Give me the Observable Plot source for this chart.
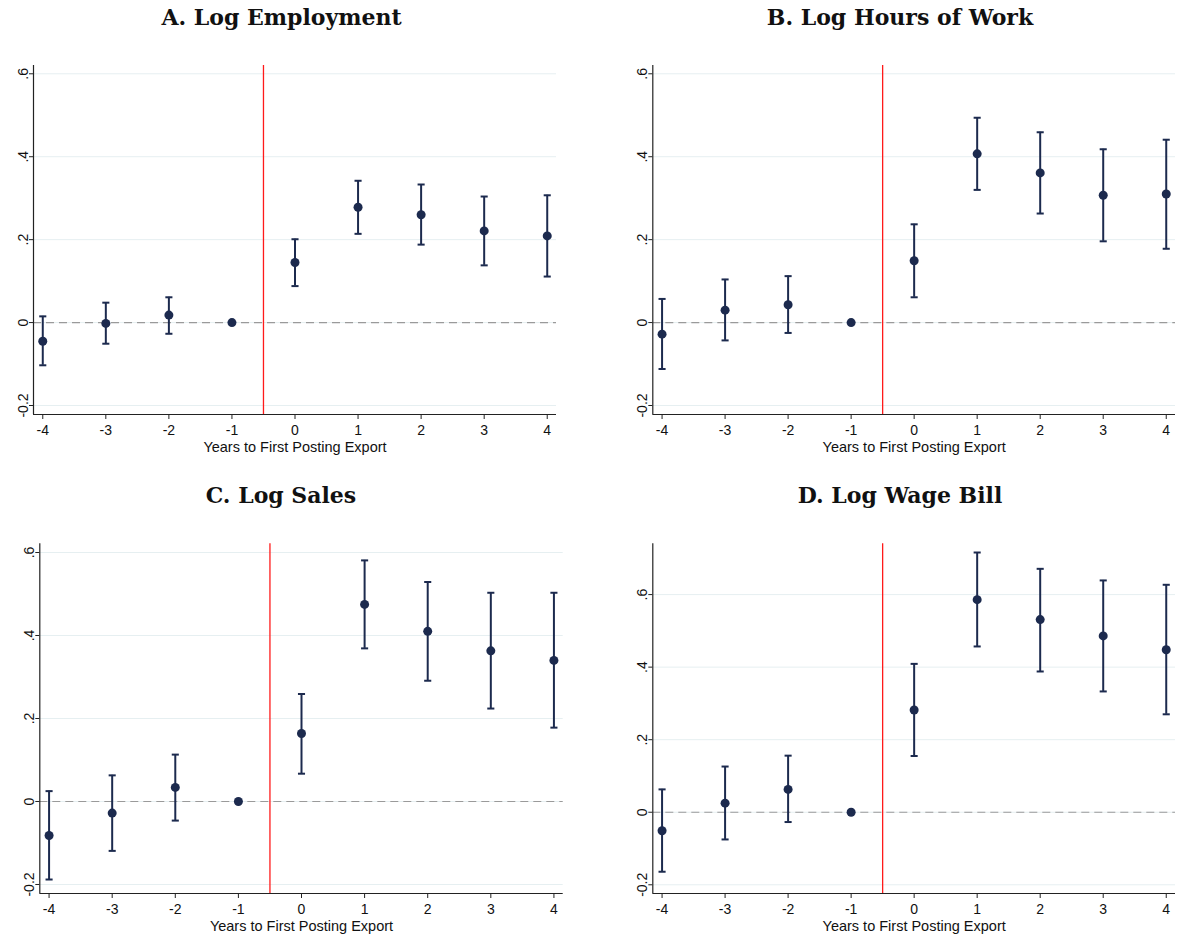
<!DOCTYPE html>
<html><head><meta charset="utf-8">
<script src="https://cdn.jsdelivr.net/npm/d3@7"></script>
<script src="https://cdn.jsdelivr.net/npm/@observablehq/plot@0.6"></script>
<style>
body{margin:0;background:#fff;}
#root{position:relative;width:1177px;height:936px;overflow:hidden;background:#fff;}
.title{position:absolute;font-family:"DejaVu Serif",serif;font-weight:bold;font-size:22px;transform:translateX(-50%);white-space:nowrap;line-height:1;color:#111;}
.panel{position:absolute;}
</style></head><body><div id="root"></div>
<script>
// ---- data ----
const years = [-4, -3, -2, -1, 0, 1, 2, 3, 4];
const xTicks = [-4, -3, -2, -1, 0, 1, 2, 3, 4];
const yTicks = [-0.2, 0, 0.2, 0.4, 0.6];
const xLabel = "Years to First Posting Export";
const eventLine = [-0.5];

const empEst = [-0.045, -0.002, 0.018, 0, 0.145, 0.278, 0.260, 0.221, 0.209];
const empLo  = [-0.103, -0.051, -0.027, null, 0.088, 0.214, 0.188, 0.138, 0.111];
const empHi  = [0.015, 0.048, 0.061, null, 0.201, 0.342, 0.333, 0.304, 0.307];

const hrsEst = [-0.028, 0.030, 0.043, 0, 0.149, 0.407, 0.361, 0.307, 0.310];
const hrsLo  = [-0.112, -0.043, -0.025, null, 0.061, 0.320, 0.263, 0.196, 0.178];
const hrsHi  = [0.057, 0.104, 0.112, null, 0.237, 0.494, 0.459, 0.418, 0.441];

const salEst = [-0.082, -0.028, 0.034, 0, 0.164, 0.475, 0.410, 0.363, 0.340];
const salLo  = [-0.188, -0.119, -0.046, null, 0.067, 0.369, 0.291, 0.224, 0.178];
const salHi  = [0.025, 0.063, 0.113, null, 0.259, 0.581, 0.529, 0.503, 0.503];

const wbEst = [-0.051, 0.025, 0.063, 0, 0.282, 0.586, 0.531, 0.486, 0.448];
const wbLo  = [-0.164, -0.075, -0.027, null, 0.155, 0.457, 0.388, 0.333, 0.270];
const wbHi  = [0.063, 0.126, 0.156, null, 0.409, 0.716, 0.671, 0.639, 0.627];

const titles = ["A. Log Employment", "B. Log Hours of Work", "C. Log Sales", "D. Log Wage Bill"];
const xDomain = [-4.147, 4.147];
const yDomains = [[-0.2217, 0.620], [-0.2217, 0.620], [-0.2217, 0.621], [-0.224, 0.740]];

// ---- layout ----
const layouts = [
  {left: 0,   top: 40,  width: 580, height: 425, ml: 33,   mr: 24,   mt: 25,   mb: 51, tx: 281.5, ty: 6},
  {left: 600, top: 40,  width: 577, height: 425, ml: 52.3, mr: 2,    mt: 25,   mb: 51, tx: 900,   ty: 6},
  {left: 0,   top: 520, width: 580, height: 416, ml: 39.3, mr: 17.3, mt: 23.3, mb: 43, tx: 281,   ty: 484},
  {left: 600, top: 520, width: 577, height: 416, ml: 52.3, mr: 2,    mt: 23.3, mb: 43, tx: 900,   ty: 484}
];
const series = [[empEst, empLo, empHi], [hrsEst, hrsLo, hrsHi], [salEst, salLo, salHi], [wbEst, wbLo, wbHi]];

const navy = "#1c2a4e";
const capSymbol = {draw(ctx, size) { const w = Math.sqrt(size) / 2; ctx.moveTo(-w, 0); ctx.lineTo(w, 0); }};
const fmtX = d => String(d);
const fmtY = d => d === 0 ? "0" : d3.format(".1f")(d).replace(/^(-?)0\./, "$1.").replace("−", "-");
const sans = "'Liberation Sans', Arial, sans-serif";

const root = document.getElementById("root");
series.forEach(([est, lo, hi], i) => {
  const L = layouts[i];
  const data = years.map((x, j) => ({x, est: est[j], lo: lo[j], hi: hi[j]}));
  const yDomain = yDomains[i];
  const chart = Plot.plot({
    width: L.width, height: L.height,
    marginLeft: L.ml, marginRight: L.mr, marginTop: L.mt, marginBottom: L.mb,
    style: {fontFamily: sans, fontSize: "14px", background: "white", color: "#111"},
    x: {domain: xDomain},
    y: {domain: yDomain},
    marks: [
      Plot.gridY(yTicks, {stroke: "#e6eff1", strokeOpacity: 1, strokeWidth: 1}),
      Plot.ruleY([0], {stroke: "#9a9a9a", strokeWidth: 1.2, strokeDasharray: "8,5"}),
      Plot.ruleX(eventLine, {stroke: "#ff1a1a", strokeWidth: 1.3}),
      Plot.ruleY([yDomain[0]], {stroke: "#222", strokeWidth: 1.2}),
      Plot.ruleX([xDomain[0]], {stroke: "#222", strokeWidth: 1.2}),
      Plot.axisX(xTicks, {tickSize: 5, text: null, label: null, stroke: "#222"}),
      Plot.axisY(yTicks, {tickSize: 4, text: null, label: null, stroke: "#222"}),
      Plot.text(xTicks, {x: d => d, text: fmtX, frameAnchor: "bottom", dy: 11, lineAnchor: "top", fill: "#111", fontSize: 14, fontFamily: sans}),
      Plot.text(yTicks, {y: d => d, text: fmtY, frameAnchor: "left", dx: -6, rotate: -90, lineAnchor: "bottom", textAnchor: "middle", fill: "#111", fontSize: 14, fontFamily: sans}),
      Plot.text([xLabel], {frameAnchor: "bottom", dy: 37, lineAnchor: "bottom", fill: "#111", fontSize: 14.5, fontFamily: sans}),
      Plot.ruleX(data, {x: "x", y1: "lo", y2: "hi", stroke: navy, strokeWidth: 2}),
      Plot.dot(data, {x: "x", y: "lo", symbol: capSymbol, r: 4, fill: "none", stroke: navy, strokeWidth: 2}),
      Plot.dot(data, {x: "x", y: "hi", symbol: capSymbol, r: 4, fill: "none", stroke: navy, strokeWidth: 2}),
      Plot.dot(data, {x: "x", y: "est", r: 4.5, fill: navy, stroke: "none"})
    ]
  });
  chart.classList.add("panel");
  chart.style.left = L.left + "px";
  chart.style.top = L.top + "px";
  root.appendChild(chart);
  const t = document.createElement("div");
  t.className = "title";
  t.textContent = titles[i];
  t.style.left = L.tx + "px";
  t.style.top = L.ty + "px";
  root.appendChild(t);
});
</script>
</body></html>
